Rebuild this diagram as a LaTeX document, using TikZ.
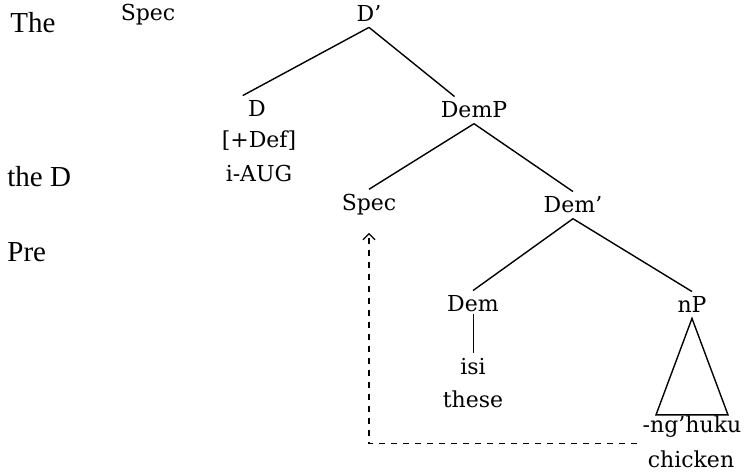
\documentclass[tikz,border=0pt]{standalone}
\usepackage{fontspec}
\setmainfont{Liberation Serif}
\newfontfamily\treefont{DejaVu Serif}
\usetikzlibrary{arrows.meta}

\begin{document}
\begin{tikzpicture}[x=0.5pt,y=-0.5pt,
        cat/.style={font=\treefont\fontsize{11}{13}\selectfont, anchor=base, inner sep=2.5pt},
        prose/.style={font=\fontsize{14.5}{17}\selectfont, anchor=base west, inner sep=0pt},
        branch/.style={line width=0.7pt}]
        \useasboundingbox (0,0) rectangle (746,476);
        \clip (0,0) rectangle (746,476);

        %running text
        \node[prose] (the) at (10,33) {The};
        \node[prose] (theD) at (7,187) {the D};
        \node[prose] (pre) at (7,262) {Pre};

        %D level
        \node[cat] (topspec) at (148,21) {Spec};
        \node[cat] (Dbar) at (369,22) {D’};
        \node[cat] (D) at (257,117) {D};
        \node[cat] (def) at (259,148) {[+Def]};
        \node[cat] (aug) at (259,182) {i-AUG};
        \node[cat] (DemP) at (474,118) {DemP};
        \draw[branch] (Dbar.south) -- (D.north west);
        \draw[branch] (Dbar.south) -- (DemP.145);

        %DemP level
        \node[cat] (spec) at (369,211) {Spec};
        \node[cat] (Dembar) at (573,213) {Dem’};
        \draw[branch] (DemP.south) -- (spec.north);
        \draw[branch] (DemP.south) -- (Dembar.north);

        %Dem' level
        \node[cat] (Dem) at (473,312) {Dem};
        \node[cat] (isi) at (473,375) {isi};
        \node[cat] (these) at (473,408) {these};
        \node[cat] (nP) at (692,313) {nP};
        \node[cat] (nghuku) at (692,433) {-ng’huku};
        \node[cat] (chicken) at (691,467) {chicken};
        \draw[branch] (Dembar.south) -- (Dem.north);
        \draw[branch] (Dembar.south) -- (nP.north);
        \draw[branch, line width=0.5pt] ([yshift=2pt]Dem.south) -- (isi.north);

        %triangle
        \draw[branch] (nP.south) -- ([xshift=-18pt,yshift=-2pt]nghuku.north) -- ([xshift=18pt,yshift=-2pt]nghuku.north) -- cycle;

        %movement
        \draw[dashed, -{Straight Barb[length=3pt,width=6pt]}, line width=0.6pt] (nghuku.south west) -| ([yshift=-6pt]spec.south);
    \end{tikzpicture}
\end{document}
